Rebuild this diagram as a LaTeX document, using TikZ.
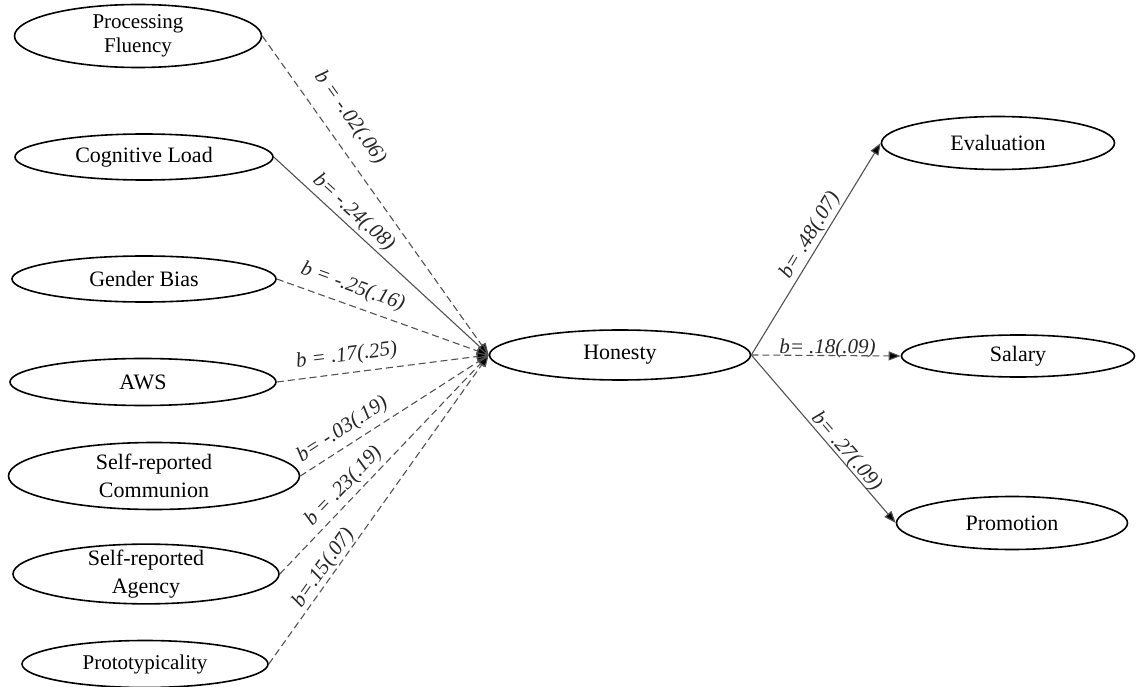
\documentclass[tikz,border=0pt]{standalone}
\usepackage{fontspec}
\setmainfont{Liberation Serif}
\usetikzlibrary{shapes.geometric,arrows.meta}
\begin{document}
\begin{tikzpicture}[x=1pt,y=-1pt,
  var/.style={draw=black, line width=1.6pt, ellipse, inner sep=0pt, align=center,
    font=\fontsize{22}{28}\selectfont},
  small/.style={font=\fontsize{21}{24}\selectfont},
  link/.style={draw=black!68, line width=1.1pt, -{Triangle[length=12pt,width=9pt,fill=black]}},
  dlink/.style={link, dash pattern=on 7pt off 4pt},
  coef/.style={sloped, font=\fontsize{21}{24}\selectfont\itshape, text=black!85, inner sep=0pt},
]
\useasboundingbox (0,0) rectangle (1136,687);

% predictors
\node[var, small, minimum width=247, minimum height=63] (pf) at (138,36) {Processing\\Fluency};
\node[var, minimum width=258, minimum height=46] (cl) at (144,157) {Cognitive Load};
\node[var, minimum width=264, minimum height=46] (gb) at (144,279) {Gender Bias};
\node[var, minimum width=266, minimum height=47] (aws) at (143,382) {AWS};
\node[var, inner ysep=-3pt, minimum width=291, minimum height=67] (sc) at (154,476) {Self-reported\\Communion};
\node[var, inner ysep=-3pt, minimum width=266, minimum height=59] (sa) at (146,574) {Self-reported\\Agency};
\node[var, small, minimum width=246, minimum height=47] (pr) at (145,664) {Prototypicality};

% mediator
\node[var, minimum width=261, minimum height=50] (h) at (620,355) {Honesty};

% outcomes
\node[var, minimum width=233, minimum height=53] (ev) at (998,143) {Evaluation};
\node[var, minimum width=233, minimum height=42] (sal) at (1018,356) {Salary};
\node[var, minimum width=231, minimum height=53] (pro) at (1012,523) {Promotion};

% paths into Honesty
\draw[dlink] (pf.east) -- node[coef, pos=.30, yshift=24pt] {b = -.02(.06)} (h.west);
\draw[link]  (cl.east) -- node[coef, pos=.33, yshift=13pt] {b= -.24(.08)} (h.west);
\draw[dlink] (gb.east) -- node[coef, pos=.33, yshift=18pt] {b = -.25(.16)} (h.west);
\draw[dlink] (aws.east) -- node[coef, pos=.34, yshift=17pt] {b = .17(.25)} (h.west);
\draw[dlink] (sc.east) -- node[coef, pos=.27, yshift=16pt] {b= -.03(.19)} (h.west);
\draw[dlink] (sa.east) -- node[coef, pos=.355, yshift=14pt] {b = .23(.19)} (h.west);
\draw[dlink] (pr.east) -- node[coef, pos=.29, yshift=11pt] {b=.15(.07)} (h.west);

% paths out of Honesty
\draw[link]  (h.east) -- node[coef, pos=.535, yshift=12pt] {b= .48(.07)} (ev.west);
\draw[dlink] (h.east) -- node[coef, pos=.51, yshift=7pt] {b= .18(.09)} (sal.west);
\draw[link]  (h.east) -- node[coef, pos=.61, yshift=9pt] {b= .27(.09)} (pro.west);
\end{tikzpicture}
\end{document}
